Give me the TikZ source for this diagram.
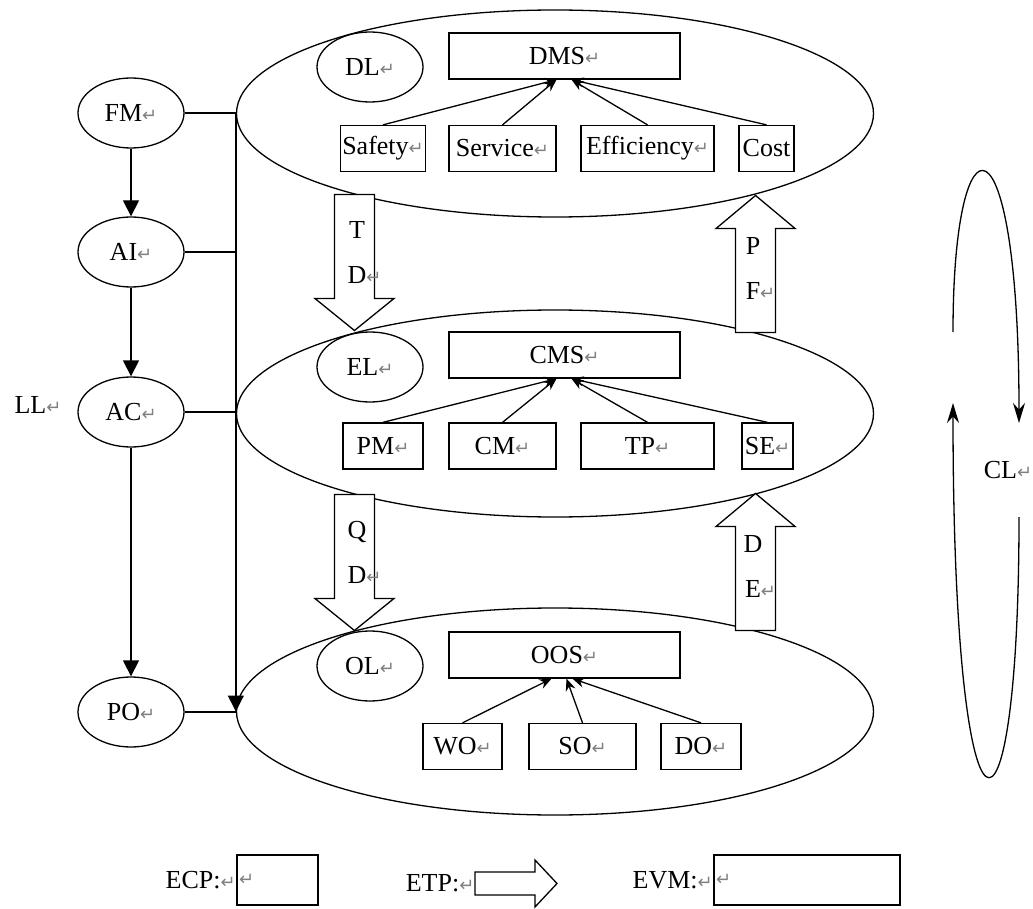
\documentclass[tikz,border=0pt]{standalone}
\usepackage{fontspec}
\setmainfont{Liberation Serif}
\newfontfamily\retfont{DejaVu Sans}
\usetikzlibrary{arrows,arrows.meta,positioning,shapes}
\newcommand{\pmark}{{\retfont\color{gray}\fontsize{9}{9}\selectfont\char"21B5}}

\begin{document}
\begin{tikzpicture}[x=0.5pt,y=-0.5pt,line width=0.65pt,>={Stealth[length=6pt,width=5pt]},
  every node/.style={font=\fontsize{13}{16}\selectfont}]
\tikzstyle{planeell}=[draw,ellipse,minimum width=318.5pt,minimum height=103.5pt]
\tikzstyle{tagell}=[draw,ellipse,minimum width=53pt,minimum height=35pt,inner sep=1pt]
\tikzstyle{box}=[draw,rectangle,minimum height=23pt,inner sep=1pt]
\tikzstyle{blockarrow}=[draw,fill=white]
\tikzstyle{ctrl}=[-{Triangle[length=8pt,width=8pt]}]
\tikzstyle{vlabel}=[font=\fontsize{13}{22.5}\selectfont,align=center,inner sep=0pt]

\useasboundingbox (0,0) rectangle (1033,909);

% the three layers
\node[planeell] (dplane) at (555,113.5) {};
\node[planeell] (eplane) at (555,413.5) {};
\node[planeell] (oplane) at (555,711.5) {};

\node[tagell] (DL) at (370,67) {DL\pmark};
\node[tagell] (EL) at (370,367) {EL\pmark};
\node[tagell] (OL) at (370,666) {OL\pmark};

\node[box,minimum width=115.5pt] (DMS) at (564.5,56) {DMS\pmark};
\node[box,minimum width=40pt]   (safety)     at (383,148.5)   {Safety\pmark};
\node[box,minimum width=53.5pt] (service)    at (502.5,148.5) {Service\pmark};
\node[box,minimum width=66.5pt] (efficiency) at (647.5,148.5) {Efficiency\pmark};
\node[box,minimum width=27.5pt] (cost)       at (766.5,148.5) {Cost};

\node[box,minimum width=115.5pt] (CMS) at (564.5,355) {CMS\pmark};
\node[box,minimum width=40pt]   (PM) at (383,446)   {PM\pmark};
\node[box,minimum width=53.5pt] (CM) at (502.5,446) {CM\pmark};
\node[box,minimum width=66.5pt] (TP) at (647.5,446) {TP\pmark};
\node[box,minimum width=25.5pt] (SE) at (767.5,446) {SE\pmark};

\node[box,minimum width=115.5pt] (OOS) at (564.5,655) {OOS\pmark};
\node[box,minimum width=39.5pt] (WO) at (462.5,746.5) {WO\pmark};
\node[box,minimum width=53.5pt] (SO) at (582.5,746.5) {SO\pmark};
\node[box,minimum width=40pt]   (DO) at (701,746.5)   {DO\pmark};

\foreach \a/\b/\o in {safety/DMS/-4pt,service/DMS/-4pt,efficiency/DMS/3.5pt,cost/DMS/3.5pt,
  PM/CMS/-4pt,CM/CMS/-4pt,TP/CMS/3.5pt,SE/CMS/3.5pt,WO/OOS/-6.5pt,SO/OOS/1pt,DO/OOS/4pt}
  \draw[->] (\a.north) -- ([xshift=\o]\b.south);

% left column
\node[tagell] (FM) at (131,113) {FM\pmark};
\node[tagell] (AI) [below of=FM,node distance=69.5pt] {AI\pmark};
\node[tagell] (AC) [below of=AI,node distance=80pt] {AC\pmark};
\node[tagell] (PO) [below of=AC,node distance=150pt] {PO\pmark};
\node (LL) at (38,405) {LL\pmark};

\draw[ctrl] (FM) -- (AI);
\draw[ctrl] (AI) -- (AC);
\draw[ctrl] (AC) -- (PO);
\draw (FM) -- (FM -| dplane.west);
\draw (AI) -- (AI -| dplane.west);
\draw (AC) -- (AC -| eplane.west);
\draw (PO) -- (PO -| oplane.west);
\draw[ctrl] (dplane.west) -- (oplane.west);

% block arrows between layers
\draw[blockarrow] (dplane.202.2) ++(-20,0) -- ++(0,104) -- ++(-19.5,0) -- ++(39.5,32)
  -- ++(39.5,-32) -- ++(-19.5,0) -- ++(0,-104) -- cycle;
\draw[blockarrow] (eplane.202.2) ++(-20,0) -- ++(0,104) -- ++(-19.5,0) -- ++(39.5,32)
  -- ++(39.5,-32) -- ++(-19.5,0) -- ++(0,-104) -- cycle;
\draw[blockarrow] (eplane.22.2) ++(-20,0) -- ++(0,-104) -- ++(-19.5,0) -- ++(39.5,-33)
  -- ++(39.5,33) -- ++(-19.5,0) -- ++(0,104) -- cycle;
\draw[blockarrow] (oplane.22.2) ++(-20,0) -- ++(0,-104) -- ++(-19.5,0) -- ++(39.5,-33)
  -- ++(39.5,33) -- ++(-19.5,0) -- ++(0,104) -- cycle;
\node[vlabel] (td) at (357,252.5) {T\\D\rlap{\pmark}};
\node[vlabel] (qd) at (357,552.5) {Q\\D\rlap{\pmark}};
\node[vlabel] (pf) at (753,268.5) {P\\F\rlap{\pmark}};
\node[vlabel] (de) at (753,566) {D\\E\rlap{\pmark}};

% cycle on the right
\node (CL) at (1008,470) {CL\pmark};
\coordinate (cl1) at (953,332);
\coordinate (cl2) at (1019,423);
\coordinate (cl3) at (1019,517);
\coordinate (cl4) at (953,403);
\draw[-{Stealth[length=10pt,width=6pt]}] (cl1) .. controls +(0,-227) and +(0,-318) .. (cl2);
\draw[-{Stealth[length=10pt,width=6pt]}] (cl3) .. controls +(0,363) and +(0,477) .. (cl4);

% legend
\node[box,minimum width=40.5pt,minimum height=25pt,text width=38.5pt,align=left] (ecp) at (277.5,880) {\pmark};
\node[anchor=east,inner sep=0pt] (ecplabel) at (ecp.west) {ECP:\pmark};
\coordinate (etp) at (475,883.5);
\node[anchor=east,inner sep=0pt] (etplabel) at (etp) {ETP:\pmark};
\draw[blockarrow] (etp) ++(0,-11.5) -- ++(60,0) -- ++(0,-12) -- ++(22,23.5) -- ++(-22,23.5)
  -- ++(0,-12) -- ++(-60,0) -- cycle;
\node[box,minimum width=93pt,minimum height=25pt,text width=91pt,align=left] (evm) at (807,880) {\pmark};
\node[anchor=east,inner sep=0pt] (evmlabel) at (evm.west) {EVM:\pmark};
\end{tikzpicture}
\end{document}
